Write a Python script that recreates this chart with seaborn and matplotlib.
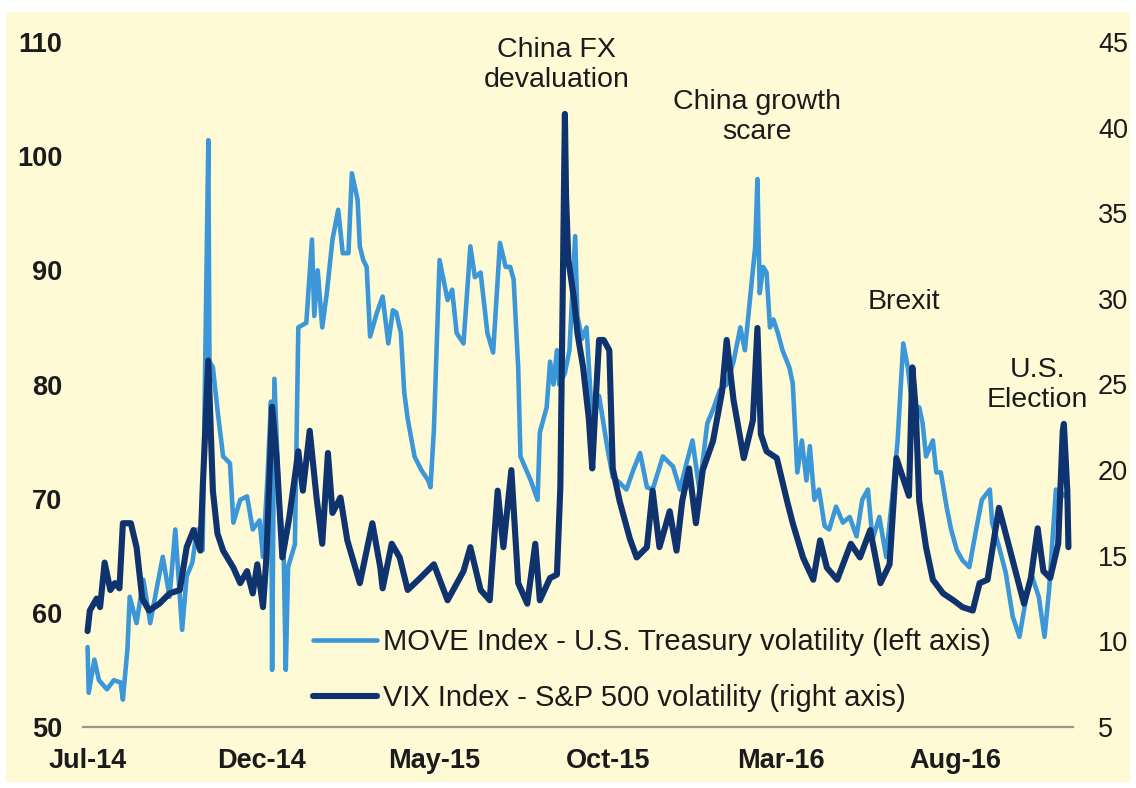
import matplotlib
matplotlib.use("Agg")
import matplotlib.pyplot as plt
import matplotlib.patches as mpatches
from matplotlib.lines import Line2D
import pandas as pd
import seaborn as sns

# ---------------- data ----------------
move_dates = [
    "2014-07-01", "2014-07-02", "2014-07-07", "2014-07-11", "2014-07-18", "2014-07-24", "2014-07-30",
    "2014-08-01", "2014-08-05", "2014-08-07", "2014-08-13", "2014-08-19", "2014-08-25", "2014-08-31",
    "2014-09-05", "2014-09-11", "2014-09-16", "2014-09-22", "2014-09-26", "2014-10-01", "2014-10-05",
    "2014-10-10", "2014-10-15", "2014-10-16", "2014-10-19", "2014-10-23", "2014-10-28", "2014-11-03",
    "2014-11-06", "2014-11-12", "2014-11-18", "2014-11-23", "2014-11-29", "2014-12-02", "2014-12-06",
    "2014-12-09", "2014-12-10", "2014-12-12", "2014-12-16", "2014-12-20", "2014-12-22", "2014-12-24",
    "2014-12-30", "2015-01-02", "2015-01-09", "2015-01-14", "2015-01-16", "2015-01-19", "2015-01-23",
    "2015-01-27", "2015-02-01", "2015-02-06", "2015-02-10", "2015-02-15", "2015-02-18", "2015-02-23",
    "2015-02-25", "2015-02-28", "2015-03-03", "2015-03-06", "2015-03-12", "2015-03-17", "2015-03-22",
    "2015-03-26", "2015-03-29", "2015-04-02", "2015-04-05", "2015-04-08", "2015-04-14", "2015-04-20",
    "2015-04-26", "2015-04-28", "2015-05-01", "2015-05-04", "2015-05-06", "2015-05-13", "2015-05-17",
    "2015-05-21", "2015-05-27", "2015-06-02", "2015-06-06", "2015-06-11", "2015-06-17", "2015-06-22",
    "2015-06-28", "2015-07-03", "2015-07-07", "2015-07-10", "2015-07-14", "2015-07-16", "2015-07-25",
    "2015-07-31", "2015-08-02", "2015-08-08", "2015-08-11", "2015-08-14", "2015-08-17", "2015-08-19",
    "2015-08-24", "2015-08-28", "2015-09-02", "2015-09-04", "2015-09-08", "2015-09-12", "2015-09-15",
    "2015-09-17", "2015-09-23", "2015-09-30", "2015-10-05", "2015-10-11", "2015-10-17", "2015-10-23",
    "2015-10-29", "2015-11-04", "2015-11-09", "2015-11-18", "2015-11-27", "2015-12-03", "2015-12-09",
    "2015-12-14", "2015-12-20", "2015-12-27", "2016-01-01", "2016-01-07", "2016-01-13", "2016-01-19",
    "2016-01-25", "2016-01-29", "2016-02-02", "2016-02-07", "2016-02-09", "2016-02-11", "2016-02-14",
    "2016-02-17", "2016-02-20", "2016-02-23", "2016-02-27", "2016-03-02", "2016-03-08", "2016-03-11",
    "2016-03-15", "2016-03-19", "2016-03-23", "2016-03-26", "2016-03-30", "2016-04-03", "2016-04-08",
    "2016-04-12", "2016-04-18", "2016-04-24", "2016-04-30", "2016-05-06", "2016-05-11", "2016-05-16",
    "2016-05-20", "2016-05-26", "2016-06-01", "2016-06-07", "2016-06-11", "2016-06-16", "2016-06-20",
    "2016-06-24", "2016-06-30", "2016-07-03", "2016-07-06", "2016-07-12", "2016-07-15", "2016-07-19",
    "2016-07-24", "2016-07-28", "2016-08-02", "2016-08-07", "2016-08-13", "2016-08-19", "2016-08-24",
    "2016-08-31", "2016-09-02", "2016-09-08", "2016-09-14", "2016-09-20", "2016-09-26", "2016-10-02",
    "2016-10-07", "2016-10-13", "2016-10-18", "2016-10-22", "2016-10-25", "2016-10-28", "2016-11-02",
    "2016-11-05",
]
move_values = [
    57.0, 53.0, 55.9, 54.1, 53.3, 54.1, 53.9,
    52.4, 56.8, 61.4, 59.1, 62.9, 59.1, 62.3,
    64.9, 61.4, 67.3, 58.5, 63.2, 64.4, 67.3,
    65.5, 101.4, 82.0, 81.5, 77.8, 73.7, 73.1,
    67.9, 69.9, 70.2, 67.3, 68.1, 64.9, 72.0,
    78.5, 55.0, 80.5, 70.0, 66.0, 55.0, 64.0,
    66.0, 85.0, 85.4, 92.7, 86.0, 90.0, 85.0,
    88.0, 92.7, 95.3, 91.5, 91.5, 98.5, 96.2,
    92.1, 90.9, 90.3, 84.2, 86.3, 87.7, 83.6,
    86.5, 86.3, 84.5, 79.3, 77.0, 73.7, 72.5,
    71.6, 71.0, 76.0, 85.0, 90.9, 87.4, 88.3,
    84.5, 83.6, 92.1, 89.4, 89.8, 84.5, 82.8,
    92.4, 90.3, 90.3, 89.2, 81.5, 73.7, 71.6,
    69.9, 75.8, 78.0, 82.0, 80.0, 83.0, 80.0,
    81.0, 83.0, 93.0, 86.0, 84.0, 85.0, 80.0,
    76.6, 79.0, 74.6, 71.9, 71.4, 70.8, 72.5,
    74.0, 71.0, 70.8, 73.7, 72.8, 70.8, 73.2,
    75.1, 70.8, 76.6, 77.8, 79.5, 80.0, 82.0,
    85.0, 83.0, 87.0, 92.0, 98.0, 88.0, 90.3,
    89.8, 85.0, 85.7, 84.5, 83.0, 81.5, 80.1,
    72.3, 75.1, 71.6, 74.6, 69.9, 70.8, 67.6,
    67.3, 69.3, 67.9, 68.4, 66.7, 69.9, 70.8,
    66.4, 68.4, 64.9, 70.8, 75.0, 83.6, 81.5,
    78.0, 78.0, 76.6, 73.7, 75.1, 72.3, 72.3,
    69.3, 67.3, 65.5, 64.6, 64.0, 67.3, 69.9,
    70.8, 67.9, 65.8, 63.5, 59.7, 57.9, 61.4,
    63.2, 61.4, 57.9, 62.0, 66.4, 70.8, 70.5,
    70.2,
]

vix_dates = [
    "2014-07-01", "2014-07-03", "2014-07-09", "2014-07-12", "2014-07-16", "2014-07-21", "2014-07-25",
    "2014-07-29", "2014-08-01", "2014-08-08", "2014-08-13", "2014-08-18", "2014-08-24", "2014-09-02",
    "2014-09-11", "2014-09-20", "2014-09-26", "2014-10-02", "2014-10-08", "2014-10-10", "2014-10-15",
    "2014-10-19", "2014-10-23", "2014-10-28", "2014-11-06", "2014-11-12", "2014-11-18", "2014-11-23",
    "2014-11-27", "2014-12-02", "2014-12-05", "2014-12-10", "2014-12-14", "2014-12-19", "2014-12-25",
    "2015-01-02", "2015-01-06", "2015-01-12", "2015-01-18", "2015-01-23", "2015-01-28", "2015-02-01",
    "2015-02-08", "2015-02-14", "2015-02-25", "2015-03-08", "2015-03-15", "2015-03-17", "2015-03-25",
    "2015-04-01", "2015-04-08", "2015-04-19", "2015-05-01", "2015-05-13", "2015-05-27", "2015-06-02",
    "2015-06-11", "2015-06-19", "2015-06-26", "2015-07-01", "2015-07-08", "2015-07-14", "2015-07-22",
    "2015-07-29", "2015-08-02", "2015-08-11", "2015-08-17", "2015-08-20", "2015-08-24", "2015-08-25",
    "2015-08-27", "2015-09-01", "2015-09-04", "2015-09-09", "2015-09-14", "2015-09-17", "2015-09-20",
    "2015-09-23", "2015-09-27", "2015-10-02", "2015-10-05", "2015-10-11", "2015-10-20", "2015-10-26",
    "2015-11-04", "2015-11-09", "2015-11-15", "2015-11-24", "2015-11-30", "2015-12-05", "2015-12-11",
    "2015-12-17", "2015-12-23", "2016-01-01", "2016-01-09", "2016-01-13", "2016-01-19", "2016-01-28",
    "2016-02-05", "2016-02-09", "2016-02-12", "2016-02-17", "2016-02-26", "2016-03-06", "2016-03-11",
    "2016-03-20", "2016-03-29", "2016-04-04", "2016-04-10", "2016-04-19", "2016-05-01", "2016-05-09",
    "2016-05-18", "2016-05-27", "2016-06-04", "2016-06-10", "2016-06-16", "2016-06-21", "2016-06-24",
    "2016-06-27", "2016-06-30", "2016-07-06", "2016-07-12", "2016-07-21", "2016-07-30", "2016-08-07",
    "2016-08-16", "2016-08-22", "2016-08-29", "2016-09-08", "2016-09-21", "2016-09-30", "2016-10-06",
    "2016-10-12", "2016-10-17", "2016-10-23", "2016-10-30", "2016-11-03", "2016-11-04", "2016-11-07",
    "2016-11-08",
]
vix_values = [
    10.6, 11.8, 12.5, 12.0, 14.6, 13.0, 13.4,
    13.1, 16.9, 16.9, 15.5, 12.5, 11.8, 12.2,
    12.8, 13.0, 15.5, 16.5, 15.3, 18.8, 26.4,
    18.8, 16.3, 15.3, 14.3, 13.4, 14.1, 12.8,
    14.5, 12.0, 14.9, 23.7, 20.7, 14.9, 17.2,
    21.1, 18.8, 22.3, 18.4, 15.7, 21.0, 17.5,
    18.4, 15.9, 13.4, 16.9, 14.3, 13.1, 15.7,
    14.9, 13.0, 13.7, 14.5, 12.4, 14.1, 15.5,
    13.0, 12.4, 18.8, 15.5, 20.0, 13.4, 12.2,
    15.7, 12.4, 13.7, 13.9, 19.0, 40.8, 36.0,
    32.3, 30.0, 28.0, 26.0, 23.0, 20.1, 24.0,
    27.6, 27.6, 27.0, 20.1, 18.2, 16.0, 14.9,
    15.5, 18.8, 15.5, 17.6, 15.3, 18.2, 20.1,
    16.9, 20.0, 21.7, 24.6, 27.6, 24.1, 20.7,
    22.9, 28.3, 22.1, 21.1, 20.7, 18.2, 16.9,
    14.9, 13.6, 15.9, 14.3, 13.6, 15.7, 14.9,
    16.5, 13.4, 14.5, 20.7, 19.5, 18.5, 26.0,
    23.5, 18.2, 15.5, 13.6, 12.8, 12.4, 12.0,
    11.8, 13.4, 13.6, 17.8, 14.5, 12.2, 13.7,
    16.6, 14.1, 13.7, 15.7, 22.3, 22.7, 18.8,
    15.5,
]

tick_dates = ["2014-07-01", "2014-12-01", "2015-05-01", "2015-10-01", "2016-03-01", "2016-08-01"]
tick_labels = ["Jul-14", "Dec-14", "May-15", "Oct-15", "Mar-16", "Aug-16"]
left_ticks = [50, 60, 70, 80, 90, 100, 110]
right_ticks = [5, 10, 15, 20, 25, 30, 35, 40, 45]

event_labels = ["China FX\ndevaluation", "China growth\nscare", "Brexit", "U.S.\nElection"]
event_dates = ["2015-08-17", "2016-02-09", "2016-06-17", "2016-10-12"]
event_levels = [108.0, 103.4, 87.2, 80.0]

series_labels = ["MOVE Index - U.S. Treasury volatility (left axis)",
                 "VIX Index - S&P 500 volatility (right axis)"]

# ---------------- style ----------------
sns.set_style("white")
plt.rcParams["font.family"] = ["Liberation Sans", "DejaVu Sans"]

CREAM = "#FEFAD6"
LIGHT = "#3C97D8"
DARK = "#0F336E"
TEXT = "#1B1B1B"
AXIS = "#9C9886"
LW_MOVE = 3.3
LW_VIX = 4.4

W, H = 1136, 788
fig = plt.figure(figsize=(W / 100, H / 100), dpi=100, facecolor="white")
fig.patches.append(mpatches.Rectangle((6 / W, 6 / H), (1130 - 6) / W, (776 - 6) / H,
                                      transform=fig.transFigure, facecolor=CREAM,
                                      edgecolor="none", zorder=-10))

ax = fig.add_axes([83 / W, 1 - 727 / H, 990 / W, 685 / H])
ax.set_facecolor("none")

move_df = pd.DataFrame({"date": pd.to_datetime(move_dates), "value": move_values})
vix_df = pd.DataFrame({"date": pd.to_datetime(vix_dates), "value": vix_values})

sns.lineplot(data=move_df, x="date", y="value", ax=ax, color=LIGHT, linewidth=LW_MOVE,
             legend=False)
ax2 = ax.twinx()
ax2.set_facecolor("none")
sns.lineplot(data=vix_df, x="date", y="value", ax=ax2, color=DARK, linewidth=LW_VIX,
             legend=False)

ax.set_xlim(pd.Timestamp("2014-06-27"), pd.Timestamp("2016-11-12"))
ax.set_ylim(50, 110)
ax2.set_ylim(5, 45)

ax.set_xticks(pd.to_datetime(tick_dates))
ax.set_xticklabels(tick_labels, fontsize=19.5, fontweight="bold", color=TEXT)
ax.set_yticks(left_ticks)
ax.set_yticklabels([str(v) for v in left_ticks], fontsize=19.5, fontweight="bold", color=TEXT)
ax2.set_yticks(right_ticks)
ax2.set_yticklabels([str(v) for v in right_ticks], fontsize=19.5, color=TEXT)

ax.tick_params(axis="x", direction="out", length=5, width=1.5, color=AXIS, pad=10)
ax.tick_params(axis="y", length=0, pad=15)
ax2.tick_params(axis="y", length=0, pad=18)

for name, sp in ax.spines.items():
    sp.set_visible(name == "bottom")
ax.spines["bottom"].set_color(AXIS)
ax.spines["bottom"].set_linewidth(1.6)
for sp in ax2.spines.values():
    sp.set_visible(False)

ax.set_xlabel("")
ax.set_ylabel("")
ax2.set_xlabel("")
ax2.set_ylabel("")
ax.grid(False)
ax2.grid(False)

for lab, d, lvl in zip(event_labels, event_dates, event_levels):
    ax.text(pd.Timestamp(d), lvl, lab, ha="center", va="center", fontsize=20.5,
            color=TEXT, linespacing=1.2)

handles = [Line2D([], [], color=LIGHT, linewidth=LW_MOVE),
           Line2D([], [], color=DARK, linewidth=LW_VIX)]
ax2.legend(handles, series_labels, loc="upper left", bbox_to_anchor=(0.232, 0.144),
           frameon=False, fontsize=21, handlelength=2.2, handletextpad=0.2,
           labelspacing=0.94, borderaxespad=0, borderpad=0, labelcolor=TEXT)

fig.savefig("out.png", dpi=100, facecolor=fig.get_facecolor())
